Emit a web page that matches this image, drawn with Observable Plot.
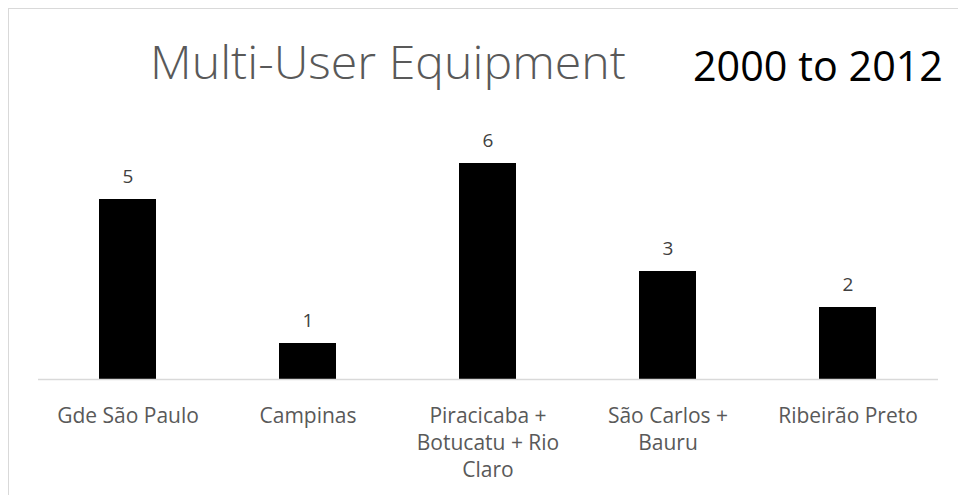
<!DOCTYPE html>
<html>
<head>
<meta charset="utf-8">
<script src="https://cdn.jsdelivr.net/npm/d3@7"></script>
<script src="https://cdn.jsdelivr.net/npm/@observablehq/plot@0.6"></script>
<style>
  html, body { margin: 0; padding: 0; background: #fff; overflow: hidden; }
  #wrap { position: relative; width: 958px; height: 495px; overflow: hidden; font-family: "Open Sans", Lato, sans-serif; }
  #frame { position: absolute; left: 8px; top: 8px; width: 1200px; height: 800px; border: 1px solid #d9d9d9; box-sizing: border-box; }
  #chart { position: absolute; left: 0; top: 0; }
  .t { position: absolute; white-space: nowrap; line-height: 1; font-variant-ligatures: none; transform-origin: 0 0; }
  #title { left: 150px; top: 38px; font-size: 46px; font-weight: 300; color: #595959; }
  #sub { left: 693px; top: 44px; font-size: 42px; font-weight: 400; color: #000; }
</style>
</head>
<body>
<div id="wrap">
  <div id="frame"></div>
  <div id="chart"></div>
  <div class="t" id="title">Multi-User Equipment</div>
  <div class="t" id="sub">2000 to 2012</div>
</div>
<script>
const categories = ["Gde São Paulo", "Campinas", "Piracicaba + Botucatu + Rio Claro", "São Carlos + Bauru", "Ribeirão Preto"];
const values = [5, 1, 6, 3, 2];
const tickLabels = ["Gde São Paulo", "Campinas", "Piracicaba +\nBotucatu + Rio\nClaro", "São Carlos +\nBauru", "Ribeirão Preto"];

const data = categories.map((c, i) => ({category: c, value: values[i], label: tickLabels[i]}));

const chart = Plot.plot({
  width: 958,
  height: 495,
  marginLeft: 38,
  marginRight: 20,
  marginTop: 163,
  marginBottom: 116,
  style: {background: "transparent", fontFamily: "'Open Sans', Lato, sans-serif"},
  x: {domain: categories, paddingInner: 0.683, paddingOuter: 0.3415, axis: null},
  y: {domain: [0, 6], axis: null},
  marks: [
    Plot.barY(data, {x: "category", y: "value", fill: "#000"}),
    Plot.ruleY([0], {stroke: "#d9d9d9", strokeWidth: 1.5}),
    Plot.text(data, {x: "category", y: "value", text: d => String(d.value), lineAnchor: "bottom", dy: -17, fontSize: 19, fill: "#404040"}),
    Plot.text(data, {x: "category", text: "label", frameAnchor: "bottom", lineAnchor: "top", dy: 24, fontSize: 21, lineHeight: 1.29, fill: "#595959"})
  ]
});
document.getElementById("chart").appendChild(chart);

// fit title widths to the reference widths
function fit(id, target) {
  const el = document.getElementById(id);
  const w = el.getBoundingClientRect().width;
  if (w > 0) el.style.transform = `scaleX(${target / w})`;
}
fit("title", 476);
fit("sub", 250);
</script>
</body>
</html>
